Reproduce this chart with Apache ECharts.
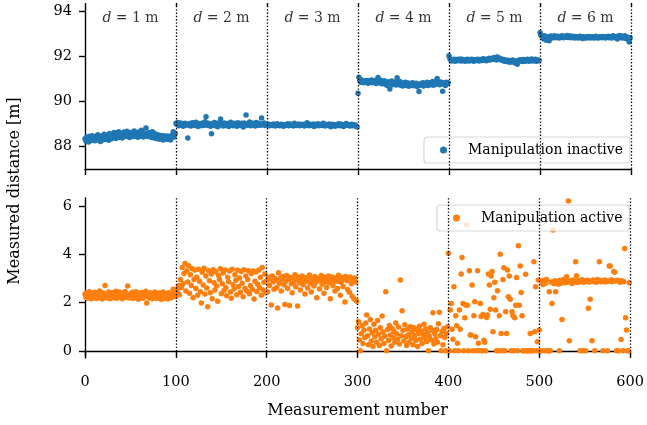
<!DOCTYPE html>
<html><head><meta charset="utf-8">
<script src="https://cdn.jsdelivr.net/npm/echarts@6/dist/echarts.min.js"></script>
<style>html,body{margin:0;padding:0;background:#fff}#c{width:647px;height:425px}</style>
</head><body><div id="c"></div><script>
// ---- Data ----
const boundaries = [100, 200, 300, 400, 500, 600];
const segCenters = [50, 150, 250, 350, 450, 550];
const distances = [1, 2, 3, 4, 5, 6];
const xTicks = [0, 100, 200, 300, 400, 500, 600];
const topYTicks = [88, 90, 92, 94];
const bottomYTicks = [0, 2, 4, 6];

// Manipulation inactive (measured distance, m)
const inactive1 = [88.32,88.22,88.40,88.28,88.18,88.43,88.35,88.24,88.46,88.30,
88.38,88.23,88.42,88.31,88.50,88.26,88.39,88.20,88.45,88.34,
88.28,88.52,88.38,88.30,88.48,88.36,88.25,88.56,88.40,88.32,
88.50,88.37,88.60,88.42,88.33,88.54,88.44,88.64,88.39,88.50,
88.56,88.36,88.47,88.62,88.42,88.53,88.66,88.44,88.51,88.38,
88.60,88.46,88.55,88.42,88.67,88.50,88.44,88.57,88.39,88.62,
88.49,88.43,88.70,88.53,88.40,88.58,88.46,88.80,88.50,88.42,
88.60,88.44,88.55,88.38,88.63,88.46,88.35,88.54,88.42,88.32,
88.50,88.38,88.30,88.47,88.35,88.43,88.27,88.46,88.34,88.40,
88.30,88.45,88.33,88.42,88.27,88.38,88.49,88.63,88.40,88.56];
const inactive2 = [89.02,88.96,89.05,88.90,88.98,89.03,88.93,88.99,88.88,88.95,
89.01,88.92,88.97,88.36,88.94,89.00,88.89,88.96,89.04,88.91,
88.98,88.93,89.06,88.95,88.87,89.00,88.94,88.99,88.90,89.03,
88.96,88.92,89.08,89.30,88.97,88.91,89.02,88.95,88.88,88.54,
88.99,88.93,89.05,88.90,88.97,89.01,88.86,88.96,89.04,89.20,
88.94,88.98,88.89,89.03,88.95,88.91,89.00,88.96,88.87,88.99,
89.06,88.93,88.97,88.90,89.02,88.95,88.99,88.88,89.04,88.94,
88.98,88.91,89.01,88.96,88.85,89.03,88.97,89.38,88.93,89.00,
88.95,89.07,88.90,88.98,89.02,88.94,88.99,88.89,89.05,88.96,
88.92,89.01,88.97,88.93,89.25,88.98,88.95,89.03,88.91,88.97];
const inactive3 = [88.95,88.92,88.97,88.90,88.94,88.96,88.91,88.98,88.93,88.89,
88.95,88.99,88.92,88.96,88.90,88.94,88.97,88.93,88.88,88.95,
88.91,88.96,88.93,88.99,88.90,88.94,88.97,88.92,88.95,88.89,
89.02,88.93,88.96,88.91,88.94,88.98,88.90,88.95,88.92,88.97,
88.93,88.89,88.96,88.92,89.04,88.94,88.90,88.97,88.93,88.95,
88.91,88.98,88.87,88.94,88.96,88.92,88.99,88.90,88.95,88.93,
88.97,88.91,89.01,88.94,88.89,88.96,88.92,88.95,88.98,88.90,
88.86,88.94,88.97,88.91,88.95,88.88,88.93,88.96,88.92,88.99,
88.90,88.94,88.97,88.93,88.87,88.95,88.91,89.00,88.94,88.92,
88.96,88.89,88.93,88.97,88.90,88.95,88.91,88.94,88.88,88.85];
const inactive4 = [90.36,91.07,90.92,90.85,90.95,90.88,90.82,90.90,90.86,90.93,
90.87,90.80,90.91,90.84,90.89,90.95,90.83,90.88,90.92,90.85,
90.79,90.90,91.06,90.86,90.82,90.94,90.78,90.88,90.84,90.91,
90.76,90.85,90.70,90.81,90.87,90.55,90.79,90.90,90.74,90.83,
90.77,90.86,90.72,91.05,90.80,90.75,90.88,90.71,90.82,90.68,
90.78,90.73,90.85,90.70,90.76,90.81,90.67,90.74,90.79,90.72,
90.83,90.69,90.77,90.73,90.80,90.66,90.75,90.43,90.71,90.78,
90.74,90.82,90.68,90.76,90.80,90.72,90.85,90.70,90.77,90.83,
90.74,90.79,90.88,90.71,90.82,90.76,90.90,91.02,90.78,90.84,
90.73,90.86,90.80,90.45,90.77,90.83,90.70,90.85,90.79,90.82];
const inactive5 = [92.03,91.90,91.84,91.80,91.86,91.82,91.88,91.79,91.85,91.83,
91.87,91.81,91.84,91.89,91.80,91.86,91.82,91.85,91.78,91.84,
91.88,91.83,91.80,91.86,91.82,91.87,91.84,91.79,91.85,91.81,
91.86,91.83,91.88,91.80,91.85,91.82,91.87,91.84,91.90,91.83,
91.86,91.81,91.88,91.85,91.92,91.84,91.89,91.86,91.93,91.87,
91.95,91.89,91.84,91.98,91.90,91.86,91.92,91.85,91.88,91.82,
91.86,91.79,91.84,91.80,91.76,91.83,91.78,91.74,91.81,91.77,
91.84,91.79,91.72,91.80,91.76,91.65,91.82,91.78,91.85,91.80,
91.83,91.77,91.86,91.81,91.79,91.84,91.88,91.82,91.78,91.86,
91.83,91.89,91.80,91.85,91.82,91.87,91.79,91.84,91.81,91.83];
const inactive6 = [93.06,92.95,92.90,92.86,92.78,92.92,92.83,92.72,92.88,92.80,
92.70,92.86,92.91,92.82,92.88,92.85,92.93,92.84,92.89,92.86,
92.90,92.83,92.88,92.85,92.92,92.87,92.84,92.90,92.86,92.89,
92.94,92.85,92.88,92.91,92.84,92.87,92.90,92.86,92.82,92.89,
92.85,92.88,92.83,92.87,92.90,92.84,92.86,92.80,92.88,92.85,
92.83,92.87,92.84,92.89,92.86,92.82,92.88,92.85,92.87,92.83,
92.86,92.90,92.84,92.87,92.82,92.85,92.88,92.86,92.84,92.89,
92.85,92.87,92.83,92.88,92.86,92.90,92.84,92.87,92.85,92.82,
92.93,92.86,92.89,92.84,92.88,92.78,92.91,92.86,92.94,92.87,
92.83,92.89,92.85,92.92,92.80,92.88,92.86,92.76,92.65,92.84];

// Manipulation active (measured distance, m)
const active1 = [2.35,2.22,2.40,2.18,2.30,2.45,2.25,2.15,2.38,2.28,
2.20,2.42,2.32,2.17,2.36,2.26,2.48,2.21,2.33,2.14,
2.39,2.27,2.70,2.23,2.34,2.19,2.44,2.29,2.16,2.37,
2.24,2.41,2.20,2.31,2.47,2.18,2.35,2.26,2.43,2.22,
2.30,2.15,2.38,2.25,2.46,2.21,2.33,2.68,2.27,2.19,
2.36,2.24,2.42,2.17,2.31,2.28,2.45,2.20,2.34,2.13,
2.39,2.26,2.22,2.41,2.18,2.30,2.36,2.47,1.98,2.25,
2.33,2.19,2.40,2.27,2.15,2.37,2.23,2.44,2.29,2.17,
2.35,2.21,2.39,2.26,2.12,2.32,2.43,2.24,2.18,2.36,
2.28,2.14,2.40,2.25,2.31,2.20,2.38,2.55,2.27,2.33];
const active2 = [2.25,2.55,2.40,2.70,2.32,2.95,2.62,3.45,2.78,3.20,
3.62,2.48,3.30,2.85,3.52,2.38,3.15,2.70,3.40,2.20,
2.95,3.35,2.58,3.05,2.30,3.38,2.88,2.45,1.98,3.25,
2.72,3.42,2.35,3.10,2.60,1.82,3.32,2.90,2.40,3.18,
2.15,3.36,2.82,2.52,3.28,2.68,2.05,3.12,2.95,3.40,
2.36,2.78,3.22,2.50,3.35,2.62,2.28,3.05,2.86,3.30,
2.44,2.18,3.38,2.74,2.56,3.15,2.92,2.32,3.34,2.66,
3.02,2.42,3.28,2.80,2.24,3.36,2.58,3.10,2.48,2.95,
3.32,2.36,2.70,3.20,2.55,3.30,2.14,2.88,3.26,2.46,
2.76,3.34,2.62,3.05,2.30,3.45,2.52,2.84,3.18,2.40];
const active3 = [2.90,2.45,3.05,2.70,2.98,1.90,3.10,2.85,2.55,3.00,
2.92,2.62,1.77,3.23,2.80,3.02,2.48,2.95,3.08,2.72,
1.92,2.88,3.12,2.58,2.96,1.88,3.04,2.78,2.40,3.00,
2.86,3.15,2.65,2.93,1.85,3.06,2.82,2.52,2.98,3.10,
2.74,2.90,2.35,3.03,2.88,2.60,2.97,3.14,2.80,2.44,
3.01,2.92,2.68,3.08,2.84,2.20,2.95,3.00,2.56,2.89,
3.12,2.76,2.98,2.38,3.05,2.86,2.62,2.94,3.10,2.82,
2.15,2.99,3.06,2.70,2.91,2.48,3.02,2.87,2.58,3.13,
2.95,2.30,2.84,3.04,2.66,2.97,2.02,3.08,2.90,2.54,
2.99,2.42,3.06,2.78,2.26,2.93,2.15,3.01,2.85,2.05];
const active4 = [0.95,1.20,0.45,0.00,0.70,1.05,0.30,0.85,0.55,1.15,
1.48,0.62,0.25,0.90,1.30,0.40,0.75,0.18,1.10,0.58,
0.85,0.35,1.25,0.68,0.22,0.95,0.50,1.44,0.78,0.30,
0.60,2.45,0.00,0.88,0.42,1.05,0.65,0.20,0.92,0.55,
0.80,0.35,1.15,0.70,0.48,0.98,0.28,2.93,0.62,1.66,
0.85,0.40,1.08,0.58,0.22,0.90,0.66,0.35,1.00,0.52,
0.78,0.25,0.95,0.62,0.42,0.88,0.18,0.72,1.02,0.48,
0.82,0.30,0.68,1.10,0.55,0.90,0.38,0.75,0.00,0.60,
0.95,0.45,0.85,1.58,0.28,0.70,0.50,0.88,0.35,1.12,
1.60,0.62,0.00,0.80,0.25,0.92,0.55,0.00,0.72,1.00];
const active5 = [4.04,0.00,1.69,1.96,0.89,0.48,2.65,0.00,1.45,1.04,
0.31,0.00,1.69,0.89,3.18,3.86,1.96,0.00,1.37,1.90,
5.21,1.89,0.00,3.32,0.65,0.65,2.72,0.00,1.45,2.03,
0.58,0.00,3.32,0.31,0.00,1.96,1.42,0.00,1.50,0.44,
0.35,0.00,1.38,1.48,3.18,2.72,1.72,3.10,3.28,0.79,
2.20,2.84,1.69,0.00,2.49,0.00,1.45,4.00,0.72,0.00,
2.95,3.44,0.00,1.62,0.72,3.35,2.24,3.10,2.13,0.00,
1.62,1.45,0.00,1.37,1.89,3.04,0.00,4.35,1.89,3.51,
2.41,1.45,0.00,0.00,0.00,3.17,0.00,0.00,0.00,0.00,
0.72,0.00,0.00,0.00,3.69,0.79,2.65,0.00,0.37,2.93];
const active6 = [0.86,0.00,2.89,0.00,2.75,2.92,0.00,2.80,2.95,0.00,
0.00,2.45,0.00,2.85,1.96,5.00,2.78,2.90,2.45,2.83,
2.88,2.76,0.00,2.92,2.80,1.30,2.86,2.95,2.82,2.89,
3.07,2.84,6.21,0.41,2.90,2.87,2.79,2.93,2.85,2.88,
3.69,3.11,2.83,2.91,2.86,0.00,2.89,2.94,0.00,2.84,
2.90,0.00,2.87,2.92,1.76,2.85,2.13,2.88,0.41,2.93,
2.86,0.00,2.90,2.84,2.95,2.88,3.69,2.91,2.86,2.89,
0.00,2.87,2.93,2.85,2.90,0.00,2.88,3.51,3.51,2.94,
2.86,2.91,3.28,3.25,2.89,0.00,2.92,0.00,2.87,2.84,
0.47,2.90,0.00,2.86,4.24,1.37,0.86,0.00,0.00,2.82];

// ---- Build ----
const inactive = [].concat(inactive1, inactive2, inactive3, inactive4, inactive5, inactive6);
const active = [].concat(active1, active2, active3, active4, active5, active6);
const FONT = 'DejaVu Serif';
const BLUE = '#1f77b4', ORANGE = '#ff7f0e';

const chart = echarts.init(document.getElementById('c'), null, {renderer: 'canvas'});

const vlines = {
  silent: true, symbol: 'none', animation: false,
  label: {show: false},
  lineStyle: {color: '#000', type: [1.4, 1.9], width: 1.3, opacity: 1},
  emphasis: {disabled: true},
  data: boundaries.map(b => ({xAxis: b}))
};

const axisLineStyle = {color: '#000', width: 1.4};
const legendCommon = {
  orient: 'vertical', icon: 'circle', itemWidth: 7, itemHeight: 7,
  backgroundColor: 'rgba(255,255,255,0.8)', borderColor: 'rgba(204,204,204,0.8)',
  borderWidth: 1.2, borderRadius: 3, padding: [6, 7, 6, 16],
  selectedMode: false,
  textStyle: {fontFamily: FONT, fontSize: 14, color: '#000', padding: [0, 0, 0, 16]}
};

chart.setOption({
  animation: false,
  textStyle: {fontFamily: FONT},
  grid: [
    {left: 85, right: 16, top: 7, height: 162},
    {left: 85, right: 16, top: 198, height: 160}
  ],
  xAxis: [
    {gridIndex: 0, type: 'value', min: 0, max: 600, interval: 100,
     axisLine: {lineStyle: axisLineStyle}, axisTick: {show: true, length: 6, lineStyle: axisLineStyle},
     axisLabel: {show: false}, splitLine: {show: false}},
    {gridIndex: 1, type: 'value', min: 0, max: 600, interval: 100,
     axisLine: {lineStyle: axisLineStyle}, axisTick: {show: true, length: 6, lineStyle: axisLineStyle},
     axisLabel: {show: true, fontFamily: FONT, fontSize: 14.5, color: '#000', margin: 17,
                 customValues: xTicks},
     splitLine: {show: false},
     name: 'Measurement number', nameLocation: 'middle', nameGap: 45,
     nameTextStyle: {fontFamily: FONT, fontSize: 16, color: '#000'}},
    {gridIndex: 0, type: 'value', min: 0, max: 600, interval: 100, position: 'top',
     axisLine: {show: false}, axisTick: {show: true, length: 4, lineStyle: axisLineStyle},
     axisLabel: {show: false}, splitLine: {show: false}}
  ],
  yAxis: [
    {gridIndex: 0, type: 'value', min: 86.97, max: 94.21,
     axisLine: {show: true, lineStyle: axisLineStyle},
     axisTick: {show: true, length: 6, lineStyle: axisLineStyle, customValues: topYTicks},
     axisLabel: {fontFamily: FONT, fontSize: 14.5, color: '#000', margin: 13, customValues: topYTicks},
     splitLine: {show: false}},
    {gridIndex: 1, type: 'value', min: -0.30, max: 6.33,
     axisLine: {show: true, lineStyle: axisLineStyle},
     axisTick: {show: true, length: 6, lineStyle: axisLineStyle, customValues: bottomYTicks},
     axisLabel: {fontFamily: FONT, fontSize: 14.5, color: '#000', margin: 13, customValues: bottomYTicks},
     splitLine: {show: false}}
  ],
  legend: [
    Object.assign({}, legendCommon, {data: ['Manipulation inactive'], left: 424, top: 137}),
    Object.assign({}, legendCommon, {data: ['Manipulation active'], left: 437, top: 205})
  ],
  graphic: [{
    type: 'text', x: 15, y: 191, rotation: Math.PI / 2, silent: true,
    style: {text: 'Measured distance [m]', fill: '#000', font: '16px "DejaVu Serif"',
            align: 'center', verticalAlign: 'middle'}
  }],
  series: [
    {name: 'Manipulation inactive', type: 'scatter', xAxisIndex: 0, yAxisIndex: 0,
     symbol: 'circle', symbolSize: 5.5, itemStyle: {color: BLUE, opacity: 1},
     data: inactive.map((v, i) => [i, v]), markLine: vlines, z: 2},
    {name: 'Manipulation active', type: 'scatter', xAxisIndex: 1, yAxisIndex: 1,
     symbol: 'circle', symbolSize: 5.5, itemStyle: {color: ORANGE, opacity: 1},
     data: active.map((v, i) => [i, v]), markLine: vlines, z: 2},
    {name: 'labels', type: 'scatter', xAxisIndex: 0, yAxisIndex: 0, symbolSize: 0, silent: true,
     data: distances.map((d, i) => ({value: [segCenters[i], 93.72], name: String(d)})),
     label: {show: true, position: 'inside', fontFamily: FONT, fontSize: 14, color: '#000',
             formatter: p => '{i|d} = ' + p.name + ' m',
             rich: {i: {fontStyle: 'italic', fontFamily: FONT, fontSize: 14, color: '#000'}}}}
  ]
});
</script></body></html>
